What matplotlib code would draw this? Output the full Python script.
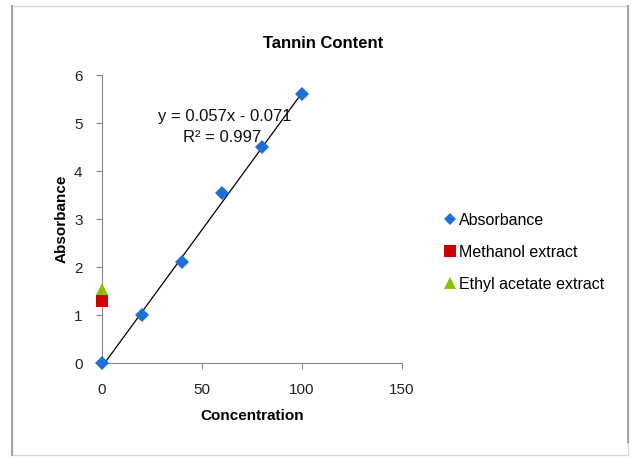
import matplotlib
matplotlib.use("Agg")
import matplotlib.pyplot as plt
from matplotlib.patches import Rectangle
import numpy as np

plt.rcParams['font.family'] = ['Liberation Sans', 'DejaVu Sans']

# Data
concentration = [0, 20, 40, 60, 80, 100]
absorbance = [0, 1.0, 2.1, 3.55, 4.5, 5.6]
methanol_x = [0]
methanol_y = [1.3]
ethyl_x = [0]
ethyl_y = [1.55]
slope = 0.057
intercept = -0.071
r2 = 0.997
xticks = [0, 50, 100, 150]
yticks = [0, 1, 2, 3, 4, 5, 6]

fig = plt.figure(figsize=(6.35, 4.57), dpi=100)
# chart border
fig.patches.append(Rectangle((12/635, 1-455/457), (628-12)/635, (455-6)/457,
                             transform=fig.transFigure, fill=False,
                             edgecolor='#d9d9d9', linewidth=1.0))
fig.add_artist(plt.Line2D([12/635, 12/635], [1-455/457, 1-6/457], color='#a6a6a6', lw=1.5))
fig.add_artist(plt.Line2D([628/635, 628/635], [1-442/457, 1-6/457], color='#a6a6a6', lw=1.5))

ax = fig.add_axes([102/635, 1-363.3/457, 300/635, (363.3-75)/457])
ax.set_xlim(0, 150)
ax.set_ylim(0, 6)
ax.set_xticks(xticks)
ax.set_yticks(yticks)
for s in ['top', 'right']:
    ax.spines[s].set_visible(False)
for s in ['left', 'bottom']:
    ax.spines[s].set_color('#868686')
    ax.spines[s].set_linewidth(0.8)
ax.tick_params(direction='out', length=4, width=0.8, color='#868686',
               labelsize=11, labelcolor='#222222')
ax.tick_params(axis='x', pad=10)
ax.tick_params(axis='y', pad=10)

# trendline
xs = np.array([-intercept / slope, max(concentration)])
ax.plot(xs, slope * xs + intercept, color='black', lw=0.9, zorder=2)

ax.plot(concentration, absorbance, 'D', color='#1f6fd8', markersize=7,
        markeredgewidth=0, label='Absorbance', zorder=3, clip_on=False)
ax.plot(methanol_x, methanol_y, 's', color='#cc0000', markersize=9,
        markeredgewidth=0, label='Methanol extract', zorder=3, clip_on=False)
ax.plot(ethyl_x, ethyl_y, '^', color='#8cc000', markersize=9,
        markeredgewidth=0, label='Ethyl acetate extract', zorder=3, clip_on=False)

ax.text(225/635, 1-116/457, f"y = {slope}x - {abs(intercept)}", transform=fig.transFigure,
        ha='center', va='center', fontsize=12, color='#111111')
ax.text(222/635, 1-138/457, f"R² = {r2}", transform=fig.transFigure,
        ha='center', va='center', fontsize=12, color='#111111')

fig.text(323/635, 1-43/457, "Tannin Content", ha='center', va='center',
         fontsize=12, fontweight='bold')
ax.set_xlabel("Concentration", fontsize=11, fontweight='bold', labelpad=9)
ax.set_ylabel("Absorbance", fontsize=11, fontweight='bold', labelpad=4)

leg = fig.legend(loc='upper left', bbox_to_anchor=(436/635, 1-205/457),
                 frameon=False, fontsize=11.5, handletextpad=0.15,
                 handlelength=0.8, labelspacing=1.05, borderpad=0,
                 markerscale=0.9)

fig.savefig("out.png", dpi=100)
